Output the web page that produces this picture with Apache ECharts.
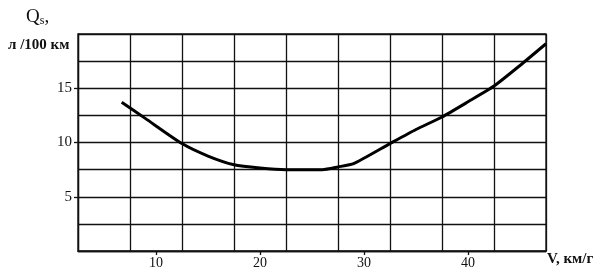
<!DOCTYPE html>
<html><head><meta charset="utf-8">
<script src="https://cdn.jsdelivr.net/npm/echarts@6/dist/echarts.min.js"></script>
<style>html,body{margin:0;padding:0;background:#fff}#c{width:600px;height:275px}</style>
</head><body><div id="c"></div>
<script>
// Data
var speeds = [6.7, 9, 12.5, 15, 17.5, 20, 22.5, 26, 27.5, 29, 32.5, 35, 37.5, 40, 42.5, 45, 47.5];
var consumption = [13.7, 12.2, 9.9, 8.75, 7.95, 7.65, 7.5, 7.5, 7.75, 8.05, 9.9, 11.2, 12.35, 13.75, 15.2, 17.1, 19.1];
var xTickLabels = [10, 20, 30, 40];
var yTickLabels = [5, 10, 15];
var yAxisTitle1 = 'Q';
var yAxisTitleSub = 's';
var yAxisTitle2 = 'л /100 км';
var xAxisTitle = 'V, км/г';

var FONT = '"Liberation Serif", "DejaVu Serif", serif';
var INK = '#111';
var chart = echarts.init(document.getElementById('c'), null, {renderer: 'canvas'});
var pts = speeds.map(function (v, i) { return [v, consumption[i]]; });
var gridLine = {show: true, lineStyle: {color: INK, width: 1.3, type: 'solid'}};

chart.setOption({
  animation: false,
  backgroundColor: '#fff',
  grid: {left: 78, right: 54, top: 34, bottom: 24, show: true, borderColor: INK, borderWidth: 1.3},
  xAxis: [{
    type: 'value', min: 2.5, max: 47.5, interval: 5,
    axisLine: {show: true, lineStyle: {color: INK, width: 1.3}},
    axisTick: {show: false}, axisLabel: {show: false},
    splitLine: gridLine
  }, {
    type: 'value', min: 2.5, max: 47.5, position: 'bottom',
    axisLine: {show: false},
    axisTick: {show: true, customValues: xTickLabels, length: 4, lineStyle: {color: INK, width: 1.3}},
    axisLabel: {show: true, customValues: xTickLabels, margin: 5, color: INK, fontFamily: FONT, fontSize: 14},
    splitLine: {show: false}
  }],
  yAxis: [{
    type: 'value', min: 0, max: 20, interval: 2.5,
    axisLine: {show: true, lineStyle: {color: INK, width: 1.3}},
    axisTick: {show: false}, axisLabel: {show: false},
    splitLine: gridLine
  }, {
    type: 'value', min: 0, max: 20, position: 'left',
    axisLine: {show: false},
    axisTick: {show: true, customValues: yTickLabels, length: 4, lineStyle: {color: INK, width: 1.3}},
    axisLabel: {show: true, customValues: yTickLabels, margin: 6, color: INK, fontFamily: FONT, fontSize: 15},
    splitLine: {show: false}
  }],
  graphic: [
    {type: 'text', left: 26, top: 8, style: {
      text: '{q|' + yAxisTitle1 + '}{s|' + yAxisTitleSub + '}{q|,}',
      rich: {q: {fontFamily: FONT, fontSize: 19, fill: INK}, s: {fontFamily: FONT, fontSize: 12, fill: INK, padding: [7, 0, 0, 0]}}
    }},
    {type: 'text', left: 8, top: 38, style: {text: yAxisTitle2, fontFamily: FONT, fontSize: 15, fontWeight: 'bold', fill: INK}},
    {type: 'text', left: 547, top: 252, style: {text: xAxisTitle, fontFamily: FONT, fontSize: 15, fontWeight: 'bold', fill: INK}}
  ],
  series: [{
    type: 'line', xAxisIndex: 0, yAxisIndex: 0, data: pts,
    showSymbol: false, smooth: 0.2,
    lineStyle: {color: '#000', width: 3}
  }]
});
</script></body></html>
